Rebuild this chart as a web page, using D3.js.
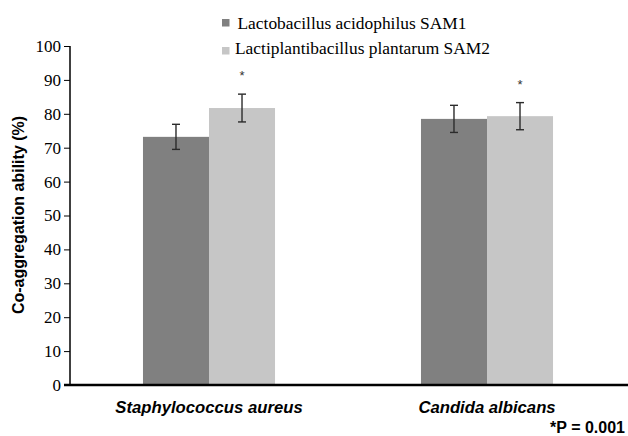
<!DOCTYPE html>
<html>
<head>
<meta charset="utf-8">
<script src="https://cdn.jsdelivr.net/npm/d3@7"></script>
<style>
  body { margin: 0; background: #fff; }
  svg { display: block; }
</style>
</head>
<body>
<svg id="chart"></svg>
<script>
// datos
const categories = ["Staphylococcus aureus", "Candida albicans"];
const seriesNames = ["Lactobacillus acidophilus SAM1", "Lactiplantibacillus plantarum SAM2"];
const sam1Values = [73.2, 78.5];
const sam1Errors = [3.7, 4.0];
const sam2Values = [81.7, 79.3];
const sam2Errors = [4.1, 4.0];
const significant = [false, true]; // asterisco solo en SAM2
const yTicks = [0, 10, 20, 30, 40, 50, 60, 70, 80, 90, 100];

const width = 628;
const height = 436;
const colors = ["#808080", "#c6c6c6"];
const serif = "'Liberation Serif', 'Times New Roman', serif";
const sans = "'Liberation Sans', Arial, sans-serif";

const svg = d3.select("#chart")
    .attr("width", width)
    .attr("height", height);

const x = d3.scaleBand()
    .domain(categories)
    .range([70, 626])
    .paddingInner(0.525)
    .paddingOuter(0.2625);

const xSub = d3.scaleBand()
    .domain(seriesNames)
    .range([0, x.bandwidth()]);

const y = d3.scaleLinear()
    .domain([0, 100])
    .range([385, 46]);

// filas para las barras
const rows = [];
categories.forEach((c, i) => {
    rows.push({cat: c, series: seriesNames[0], value: sam1Values[i], err: sam1Errors[i], star: significant[0], color: colors[0]});
    rows.push({cat: c, series: seriesNames[1], value: sam2Values[i], err: sam2Errors[i], star: significant[1], color: colors[1]});
});

svg.append("g")
    .selectAll("rect")
    .data(rows)
    .enter().append("rect")
    .attr("x", d => x(d.cat) + xSub(d.series))
    .attr("y", d => y(d.value))
    .attr("width", xSub.bandwidth())
    .attr("height", d => y(0) - y(d.value))
    .attr("fill", d => d.color);

// barras de error
const eb = svg.append("g")
    .attr("stroke", "#2b2b2b")
    .attr("stroke-width", 1.4)
    .selectAll("g")
    .data(rows)
    .enter().append("g")
    .attr("transform", d => `translate(${x(d.cat) + xSub(d.series) + xSub.bandwidth() / 2},0)`);

eb.append("line")
    .attr("y1", d => y(d.value + d.err))
    .attr("y2", d => y(d.value - d.err));
eb.append("line")
    .attr("x1", -4).attr("x2", 4)
    .attr("y1", d => y(d.value + d.err))
    .attr("y2", d => y(d.value + d.err));
eb.append("line")
    .attr("x1", -4).attr("x2", 4)
    .attr("y1", d => y(d.value - d.err))
    .attr("y2", d => y(d.value - d.err));

svg.append("g")
    .selectAll("text")
    .data(rows.filter(d => d.star))
    .enter().append("text")
    .style("font-family", sans)
    .attr("x", d => x(d.cat) + xSub(d.series) + xSub.bandwidth() / 2)
    .attr("y", d => y(d.value + d.err) - 14)
    .attr("text-anchor", "middle")
    .style("font-size", "13px")
    .attr("fill", "#333")
    .text("*");

// eje y
const yAxis = svg.append("g")
    .attr("transform", "translate(70,0)")
    .call(d3.axisLeft(y).tickValues(yTicks).tickSize(6).tickPadding(3));
yAxis.select(".domain").attr("stroke", "#000").attr("stroke-width", 1.5).attr("d", `M0,${y(100)}V${y(0)}`);
yAxis.selectAll(".tick line").attr("stroke", "#000");
yAxis.selectAll(".tick text")
    .style("font-family", serif)
    .style("font-size", "17px")
    .attr("fill", "#000");

// eje x
svg.append("line")
    .attr("x1", 64).attr("x2", 628)
    .attr("y1", y(0)).attr("y2", y(0))
    .attr("stroke", "#000")
    .attr("stroke-width", 2.5);

svg.append("g")
    .selectAll("text")
    .data(categories)
    .enter().append("text")
    .style("font-family", sans)
    .attr("x", d => x(d) + x.bandwidth() / 2)
    .attr("y", 413)
    .attr("text-anchor", "middle")
    .style("font-size", "16.7px")
    .style("font-weight", "bold")
    .style("font-style", "italic")
    .text(d => d);

svg.append("text")
    .style("font-family", sans)
    .attr("x", 625)
    .attr("y", 433)
    .attr("text-anchor", "end")
    .style("font-size", "16px")
    .style("font-weight", "bold")
    .text("*P = 0.001");

svg.append("text")
    .style("font-family", sans)
    .attr("transform", "translate(24,215) rotate(-90)")
    .attr("text-anchor", "middle")
    .style("font-size", "16px")
    .style("font-weight", "bold")
    .text("Co-aggregation ability (%)");

// leyenda
const legend = svg.append("g")
    .selectAll("g")
    .data(seriesNames)
    .enter().append("g")
    .attr("transform", (d, i) => `translate(222,${i === 0 ? 19 : 46})`);

legend.append("rect")
    .attr("width", 7.5)
    .attr("height", 7.5)
    .attr("y", (d, i) => i === 0 ? 0 : 1)
    .attr("fill", (d, i) => colors[i]);

legend.append("text")
    .style("font-family", serif)
    .attr("x", (d, i) => i === 0 ? 15.5 : 13)
    .attr("y", (d, i) => i === 0 ? 10 : 8)
    .style("font-size", "17.4px")
    .text(d => d);
</script>
</body>
</html>
